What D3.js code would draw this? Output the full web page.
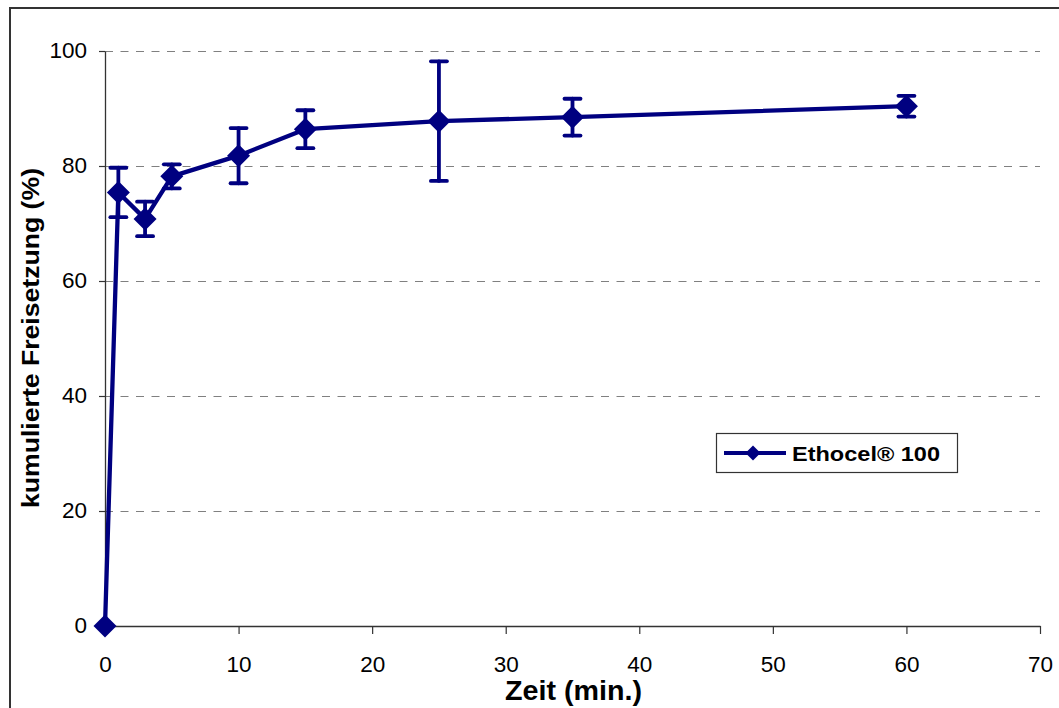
<!DOCTYPE html>
<html><head><meta charset="utf-8">
<script src="https://cdn.jsdelivr.net/npm/d3@7"></script>
<style>body{margin:0;background:#fff;} svg{display:block;font-family:"Liberation Sans",Arial,sans-serif;}</style>
</head><body>
<svg id="c" width="1059" height="708"></svg>
<script>
const times = [0, 1, 3, 5, 10, 15, 25, 35, 60];
const release = [0, 75.4, 70.8, 78.2, 81.8, 86.4, 87.8, 88.5, 90.4];
const errors = [0, 4.3, 3.0, 2.1, 4.8, 3.3, 10.4, 3.2, 1.8];
const xTicks = [0, 10, 20, 30, 40, 50, 60, 70];
const yTicks = [0, 20, 40, 60, 80, 100];
const seriesName = "Ethocel\u00AE 100";
const xTitle = "Zeit (min.)";
const yTitle = "kumulierte Freisetzung (%)";

const svg = d3.select("#c");
const color = "#000080";
svg.append("rect").attr("x",10).attr("y",8).attr("width",1100).attr("height",800)
  .attr("fill","none").attr("stroke","#333").attr("stroke-width",2);

const x = d3.scaleLinear().domain([0,70]).range([105,1040]);
const y = d3.scaleLinear().domain([0,100]).range([626,51]);

// gridlines
svg.append("g").selectAll("line").data(yTicks.filter(d=>d>0)).join("line")
  .attr("x1",x(0)).attr("x2",x(70)).attr("y1",d=>Math.round(y(d))+0.5).attr("y2",d=>Math.round(y(d))+0.5)
  .attr("stroke","#808080").attr("stroke-width",1).attr("stroke-dasharray","8,7.5");

// axes
const xa = svg.append("g").attr("transform",`translate(0,${y(0)})`)
  .call(d3.axisBottom(x).tickValues(xTicks).tickSize(8).tickPadding(22).tickSizeOuter(0));
const ya = svg.append("g").attr("transform",`translate(${x(0)},0)`)
  .call(d3.axisLeft(y).tickValues(yTicks).tickSize(6).tickPadding(12).tickSizeOuter(0));
[xa,ya].forEach(a=>{
  a.select(".domain").attr("stroke","#333").attr("stroke-width",1.3);
  a.selectAll(".tick line").attr("stroke","#333").attr("stroke-width",1.2);
  a.selectAll("text").attr("font-size",22.5).attr("fill","#000").attr("font-family","'Liberation Sans',Arial,sans-serif");
});
ya.selectAll("text").attr("dy","0.3em");

// titles
svg.append("text").attr("x",573.5).attr("y",700).attr("text-anchor","middle")
  .attr("font-size",27).attr("font-weight","bold").attr("textLength",137).attr("lengthAdjust","spacingAndGlyphs").text(xTitle);
svg.append("text").attr("transform","translate(39,338) rotate(-90)").attr("text-anchor","middle")
  .attr("font-size",24).attr("font-weight","bold").attr("textLength",340).attr("lengthAdjust","spacingAndGlyphs").text(yTitle);

const data = times.map((t,i)=>({t, v:release[i], e:errors[i]}));

// error bars
const eb = svg.append("g").attr("stroke",color).attr("stroke-width",3.8).attr("stroke-linecap","round");
data.filter(d=>d.e>0).forEach(d=>{
  eb.append("line").attr("x1",x(d.t)).attr("x2",x(d.t)).attr("y1",y(d.v+d.e)).attr("y2",y(d.v-d.e));
  [d.v+d.e,d.v-d.e].forEach(v=>eb.append("line").attr("x1",x(d.t)-8).attr("x2",x(d.t)+8).attr("y1",y(v)).attr("y2",y(v)));
});

// line
svg.append("path").datum(data)
  .attr("d",d3.line().x(d=>x(d.t)).y(d=>y(d.v)))
  .attr("fill","none").attr("stroke",color).attr("stroke-width",4.3).attr("stroke-linejoin","round");

const diamond = (cx,cy,r)=>`M${cx},${cy-r}L${cx+r},${cy}L${cx},${cy+r}L${cx-r},${cy}Z`;
svg.append("g").selectAll("path").data(data).join("path")
  .attr("d",d=>diamond(x(d.t),y(d.v),11.5)).attr("fill",color);

// legend
const lg = svg.append("g");
lg.append("rect").attr("x",716.5).attr("y",433.5).attr("width",241).attr("height",39)
  .attr("fill","#fff").attr("stroke","#333").attr("stroke-width",1.2);
lg.append("line").attr("x1",724).attr("x2",786).attr("y1",453).attr("y2",453)
  .attr("stroke",color).attr("stroke-width",4);
lg.append("path").attr("d",diamond(753,453,7.5)).attr("fill",color);
lg.append("text").attr("x",792).attr("y",461).attr("font-size",21).attr("font-weight","bold")
  .attr("textLength",148).attr("lengthAdjust","spacingAndGlyphs").text(seriesName);
</script>
</body></html>
